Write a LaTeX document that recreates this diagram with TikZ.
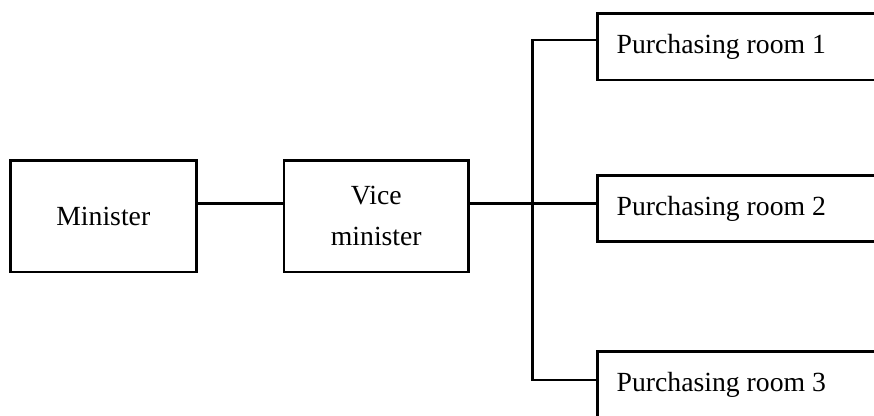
\documentclass[tikz,border=0pt]{standalone}
\usepackage{fontspec}
\setmainfont{Liberation Serif}
\begin{document}
\begin{tikzpicture}[x=1pt,y=-1pt,
  box/.style={draw, line width=2.6pt, inner sep=0pt, anchor=north west},
  lbl/.style={font=\fontsize{27.7}{41}\selectfont, inner sep=0pt},
  link/.style={line width=2.8pt}]
  \clip (0,0) rectangle (874,415);
  \useasboundingbox (0,0) rectangle (874,415);
  % main chain
  \node[box, minimum width=186pt, minimum height=111.5pt] (min) at (9,159.3) {};
  \node[lbl] at (min.center) {Minister};
  \node[box, minimum width=184.6pt, minimum height=111.4pt] (vice) at (282.7,159.3) {};
  \node[lbl, align=center] at (vice.center) {Vice\\minister};
  % purchasing rooms (run off the right edge)
  \node[box, minimum width=320pt, minimum height=66.7pt] (p1) at (596,12) {};
  \node[box, minimum width=320pt, minimum height=66pt] (p2) at (596,174) {};
  \node[box, minimum width=320pt, minimum height=80pt] (p3) at (596,350) {};
  \node[lbl, anchor=base west] at (616.5,53.3) {Purchasing room 1};
  \node[lbl, anchor=base west] at (616.5,215) {Purchasing room 2};
  \node[lbl, anchor=base west] at (616.5,391) {Purchasing room 3};
  % bus coordinates
  \coordinate (j) at (532.7,203.3);
  \coordinate (btop) at (532.7,40);
  \coordinate (bbot) at (532.7,380);
  \draw[link] (min.east |- j) -- (vice.west |- j);
  \draw[link] (vice.east |- j) -- (p2.west |- j);
  \draw[link] (p1.west |- btop) -- (btop) -- (bbot) -- (p3.west |- bbot);
\end{tikzpicture}
\end{document}
